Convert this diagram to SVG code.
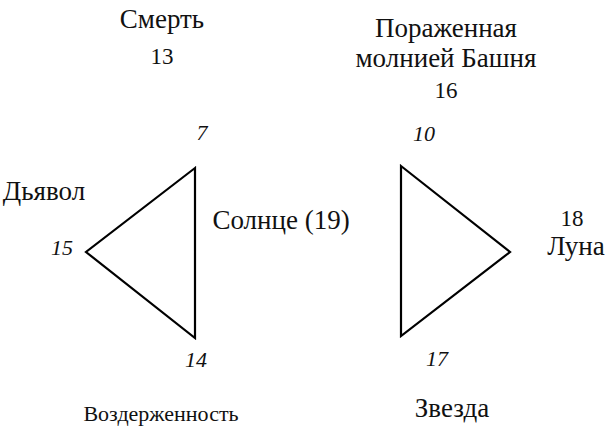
<svg xmlns="http://www.w3.org/2000/svg" width="610" height="428" viewBox="0 0 610 428">
<style>
text{font-family:"Liberation Serif","Times New Roman",serif;fill:#111;text-anchor:middle}
.w{font-size:27px}
.s{font-size:22px}
.n{font-size:23px}
.i{font-size:22px;font-style:italic}
.tri{fill:none;stroke:#000;stroke-width:2.2;stroke-linejoin:miter}
</style>
<rect width="610" height="428" fill="#fff"/>
<g id="connectors">
<polygon id="tri-left" class="tri" points="195,168 86,252 195,338"/>
<polygon id="tri-right" class="tri" points="401,166 510,252 401,336"/>
</g>
<g id="death"><text class="w" x="162" y="28">Смерть</text><text class="n" x="162" y="64">13</text></g>
<g id="tower"><text class="w" x="446" y="37">Пораженная</text><text class="w" x="446" y="67">молнией Башня</text><text class="n" x="446" y="98">16</text></g>
<g id="v7"><text class="i" x="202" y="140">7</text></g>
<g id="v10"><text class="i" x="424" y="141">10</text></g>
<g id="devil"><text class="w" x="44" y="200">Дьявол</text></g>
<g id="v15"><text class="i" x="62" y="255">15</text></g>
<g id="sun"><text class="w" x="281" y="229">Солнце (19)</text></g>
<g id="moon"><text class="n" x="572" y="226">18</text><text class="w" x="576" y="255">Луна</text></g>
<g id="v14"><text class="i" x="196" y="367">14</text></g>
<g id="v17"><text class="i" x="437" y="366">17</text></g>
<g id="temperance"><text class="s" x="161" y="421">Воздерженность</text></g>
<g id="star"><text class="w" x="452" y="417">Звезда</text></g>
</svg>
